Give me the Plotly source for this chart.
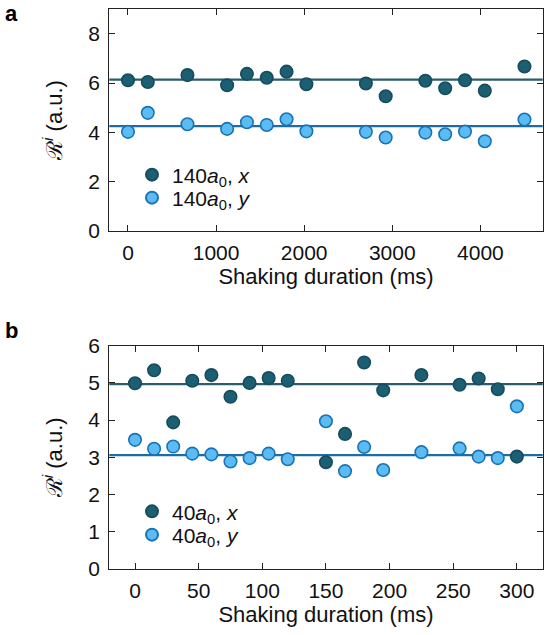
import plotly.graph_objects as go

# ---------------- data ----------------
# Panel a (140 a0)
dur_a = [0, 225, 675, 1125, 1350, 1575, 1800, 2025, 2700, 2925, 3375, 3600, 3825, 4050, 4500]
ra_x = [6.11, 6.04, 6.32, 5.91, 6.37, 6.21, 6.46, 5.95, 5.98, 5.46, 6.09, 5.79, 6.11, 5.69, 6.67]
ra_y = [4.02, 4.79, 4.33, 4.14, 4.41, 4.30, 4.53, 4.04, 4.02, 3.79, 3.99, 3.92, 4.03, 3.64, 4.52]
mean_a_x = 6.14
mean_a_y = 4.25

# Panel b (40 a0)
dur_b = [0, 15, 30, 45, 60, 75, 90, 105, 120, 150, 165, 180, 195, 225, 255, 270, 285, 300]
rb_x = [4.99, 5.34, 3.94, 5.06, 5.21, 4.63, 5.00, 5.13, 5.06, 2.87, 3.63, 5.55, 4.80, 5.21, 4.95, 5.12, 4.83, 3.02]
rb_y = [3.47, 3.23, 3.29, 3.10, 3.08, 2.89, 2.98, 3.10, 2.95, 3.97, 2.63, 3.28, 2.66, 3.14, 3.24, 3.02, 2.98, 4.37]
mean_b_x = 4.97
mean_b_y = 3.06

xticks_a = [0, 1000, 2000, 3000, 4000]
yticks_a = [0, 2, 4, 6, 8]
xticks_b = [0, 50, 100, 150, 200, 250, 300]
yticks_b = [0, 1, 2, 3, 4, 5, 6]

# ---------------- style ----------------
FONT = "Liberation Sans"
DARK_FILL = "#1c5e72"
DARK_EDGE = "#174c5c"
LIGHT_FILL = "#5bbcf4"
LIGHT_EDGE = "#1a72b2"
DARK_LINE = "#2a5c6c"
LIGHT_LINE = "#1d6ca4"
W, H = 559, 635
TICK_SIZE = 21
TITLE_SIZE = 22
LEG_SIZE = 21

fig = go.Figure()

def mk(fill, edge):
    return dict(size=12.5, color=fill, line=dict(color=edge, width=1.6))

fig.add_trace(go.Scatter(x=dur_a, y=ra_x, mode="markers", marker=mk(DARK_FILL, DARK_EDGE),
                         name="140<i>a</i><sub>0</sub>, <i>x</i>", xaxis="x", yaxis="y", legend="legend2"))
fig.add_trace(go.Scatter(x=dur_a, y=ra_y, mode="markers", marker=mk(LIGHT_FILL, LIGHT_EDGE),
                         name="140<i>a</i><sub>0</sub>, <i>y</i>", xaxis="x", yaxis="y", legend="legend3"))
fig.add_trace(go.Scatter(x=dur_b, y=rb_x, mode="markers", marker=mk(DARK_FILL, DARK_EDGE),
                         name="40<i>a</i><sub>0</sub>, <i>x</i>", xaxis="x2", yaxis="y2", legend="legend4"))
fig.add_trace(go.Scatter(x=dur_b, y=rb_y, mode="markers", marker=mk(LIGHT_FILL, LIGHT_EDGE),
                         name="40<i>a</i><sub>0</sub>, <i>y</i>", xaxis="x2", yaxis="y2", legend="legend5"))

shapes = []
for yv, col, xr, yr in [(mean_a_x, DARK_LINE, "x domain", "y"), (mean_a_y, LIGHT_LINE, "x domain", "y"),
                        (mean_b_x, DARK_LINE, "x2 domain", "y2"), (mean_b_y, LIGHT_LINE, "x2 domain", "y2")]:
    shapes.append(dict(type="line", xref=xr, yref=yr, x0=0, x1=1, y0=yv, y1=yv,
                       line=dict(color=col, width=2.2), layer="below"))

axis_common = dict(showline=True, linecolor="#222", linewidth=1.2, mirror="ticks", automargin=False,
                   ticks="inside", ticklen=6, tickwidth=1.2, tickcolor="#222",
                   showgrid=False, zeroline=False, tickfont=dict(family=FONT, size=TICK_SIZE, color="#111"))
xcommon = dict(ticklabelstandoff=3, **axis_common)
ycommon = dict(ticklabelstandoff=4, **axis_common)
ytitle = "ℛ<sup><i>i</i></sup> (a.u.)"
xtitle = "Shaking duration (ms)"


def leg(ypix):
    return dict(x=132 / W, y=1 - ypix / H, xanchor="left", yanchor="middle", bgcolor="rgba(0,0,0,0)",
                font=dict(family=FONT, size=LEG_SIZE), tracegroupgap=0, itemsizing="constant")


x_left, x_right = 109.3 / W, 542.7 / W
fig.update_layout(
    width=W, height=H, margin=dict(l=0, r=0, t=0, b=0), autosize=False,
    paper_bgcolor="white", plot_bgcolor="white",
    font=dict(family=FONT, size=TICK_SIZE, color="#111"),
    shapes=shapes,
    xaxis=dict(domain=[x_left, x_right], range=[-212, 4707], tickvals=xticks_a, anchor="y",
               title=dict(text=xtitle, font=dict(family=FONT, size=TITLE_SIZE), standoff=4),
               **xcommon),
    yaxis=dict(domain=[1 - 231 / H, 1 - 9 / H], range=[0, 9], tickvals=yticks_a, anchor="x",
               title=dict(text=ytitle, font=dict(family=FONT, size=TITLE_SIZE), standoff=19),
               **ycommon),
    xaxis2=dict(domain=[x_left, x_right], range=[-20.2, 320.3], tickvals=xticks_b, anchor="y2",
                title=dict(text=xtitle, font=dict(family=FONT, size=TITLE_SIZE), standoff=4),
                **xcommon),
    yaxis2=dict(domain=[1 - 569 / H, 1 - 345.7 / H], range=[0, 6], tickvals=yticks_b, anchor="x2",
                title=dict(text=ytitle, font=dict(family=FONT, size=TITLE_SIZE), standoff=19),
                **ycommon),
    legend2=leg(175),
    legend3=leg(198),
    legend4=leg(511.7),
    legend5=leg(535),
    annotations=[
        dict(text="<b>a</b>", x=12 / W, y=1, xref="paper", yref="paper", showarrow=False,
             xanchor="center", yanchor="top", borderpad=0, font=dict(family=FONT, size=22, color="#000")),
        dict(text="<b>b</b>", x=12 / W, y=1 - 330 / H, xref="paper", yref="paper", showarrow=False,
             xanchor="center", yanchor="middle", font=dict(family=FONT, size=22, color="#000")),
    ],
)

fig.write_html("out.html")
